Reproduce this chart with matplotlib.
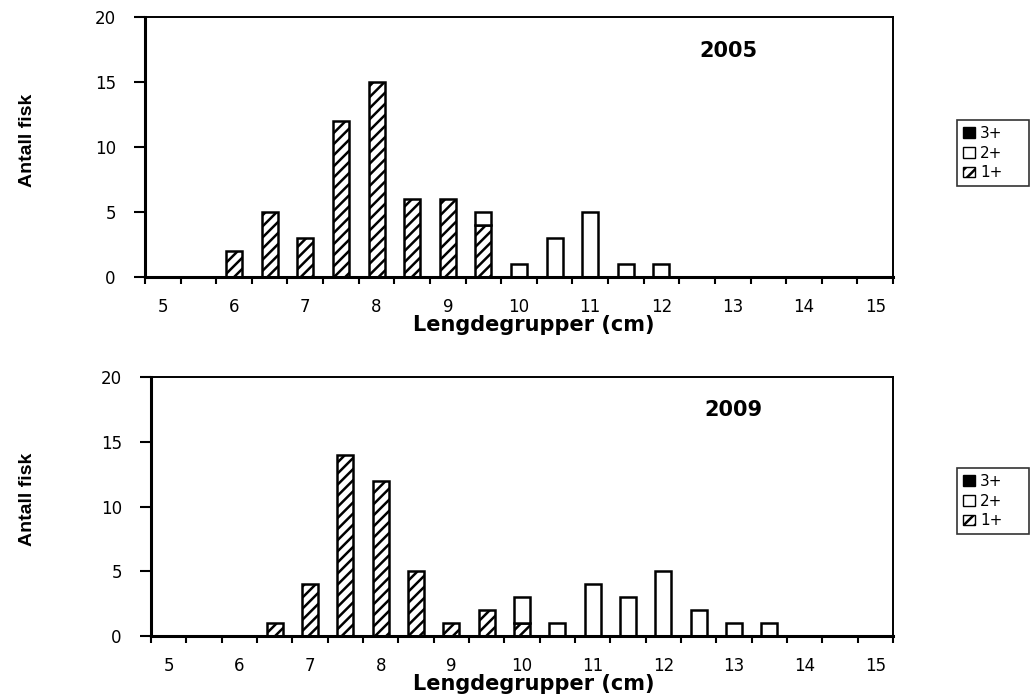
import numpy as np
import matplotlib
matplotlib.use("Agg")
import matplotlib.pyplot as plt
from matplotlib.patches import Patch

plt.rcParams['font.family'] = ['DejaVu Sans']
plt.rcParams['hatch.linewidth'] = 1.8

categories = [5, 5.5, 6, 6.5, 7, 7.5, 8, 8.5, 9, 9.5, 10, 10.5, 11, 11.5,
              12, 12.5, 13, 13.5, 14, 14.5, 15]
tick_labels = ["5", "", "6", "", "7", "", "8", "", "9", "", "10", "", "11", "",
               "12", "", "13", "", "14", "", "15"]

y2005_1 = [0, 0, 2, 5, 3, 12, 15, 6, 6, 4, 0, 0, 0, 0, 0, 0, 0, 0, 0, 0, 0]
y2005_2 = [0, 0, 0, 0, 0, 0, 0, 0, 0, 1, 1, 3, 5, 1, 1, 0, 0, 0, 0, 0, 0]
y2005_3 = [0] * 21

y2009_1 = [0, 0, 0, 1, 4, 14, 12, 5, 1, 2, 1, 0, 0, 0, 0, 0, 0, 0, 0, 0, 0]
y2009_2 = [0, 0, 0, 0, 0, 0, 0, 0, 0, 0, 2, 1, 4, 3, 5, 2, 1, 1, 0, 0, 0]
y2009_3 = [0] * 21

years = ["2005", "2009"]

fig = plt.figure(figsize=(10.33, 6.98), dpi=100)
W, H = 1033, 698
axes_px = [(145, 17, 893, 277), (151, 377, 893, 636)]
year_pos = [(728, 51), (733, 410)]
legend_px = [(957, 120), (957, 468)]
data = [(y2005_1, y2005_2, y2005_3), (y2009_1, y2009_2, y2009_3)]

for i in range(2):
    l, t, r, b = axes_px[i]
    ax = fig.add_axes([l / W, 1 - b / H, (r - l) / W, (b - t) / H])
    x = np.arange(len(categories))
    s1, s2, s3 = [np.array(s) for s in data[i]]
    w = 0.45
    m1, m2, m3 = s1 > 0, s2 > 0, s3 > 0
    ax.bar(x[m1], s1[m1], w, color='white', edgecolor='black',
           hatch='///', linewidth=1.8)
    ax.bar(x[m2], s2[m2], w, bottom=s1[m2], color='white',
           edgecolor='black', linewidth=1.8)
    ax.bar(x[m3], s3[m3], w, bottom=(s1 + s2)[m3], color='black',
           edgecolor='black', linewidth=1.8)
    ax.set_xlim(-0.5, len(categories) - 0.5)
    ax.set_ylim(0, 20)
    ax.set_yticks([0, 5, 10, 15, 20])
    ax.set_xticks(x)
    ax.set_xticklabels(tick_labels, fontsize=12)
    ax.tick_params(axis='x', length=0, pad=15)
    ax.set_xticks(np.arange(-0.5, len(categories), 1), minor=True)
    ax.tick_params(axis='x', which='minor', length=5, width=1.5, direction='out')
    ax.tick_params(axis='y', length=8, width=1.5, direction='out', labelsize=12, pad=13)
    for sp in ['left', 'bottom']:
        ax.spines[sp].set_linewidth(2.2)
    for sp in ['top', 'right']:
        ax.spines[sp].set_linewidth(1.4)
    fig.text(534 / W, 1 - (b + 48) / H, "Lengdegrupper (cm)", fontsize=15,
             fontweight='bold', ha='center', va='center')
    ax.text(year_pos[i][0], H - year_pos[i][1], years[i], transform=None,
            fontsize=15, fontweight='bold', ha='center', va='center')
    fig.text(28 / W, 1 - ((t + b) / 2 - 7) / H, "Antall fisk", rotation=90,
             fontsize=14, fontweight='bold', ha='center', va='center',
             family=['Liberation Sans', 'DejaVu Sans'])
    handles = [Patch(facecolor='black', edgecolor='black', label='3+'),
               Patch(facecolor='white', edgecolor='black', label='2+'),
               Patch(facecolor='white', edgecolor='black', hatch='///', label='1+')]
    lx, ly = legend_px[i]
    leg = fig.legend(handles=handles, loc='upper left',
                     bbox_to_anchor=(lx / W, 1 - (ly + 80) / H, 72 / W, 80 / H),
                     mode='expand', fontsize=11,
                     frameon=True, fancybox=False, edgecolor='black',
                     handlelength=0.8, handleheight=0.7, handletextpad=0.3,
                     labelspacing=0.3, borderpad=0.4, borderaxespad=0)
    leg.get_frame().set_linewidth(1.2)

fig.savefig("out.png", dpi=100)
